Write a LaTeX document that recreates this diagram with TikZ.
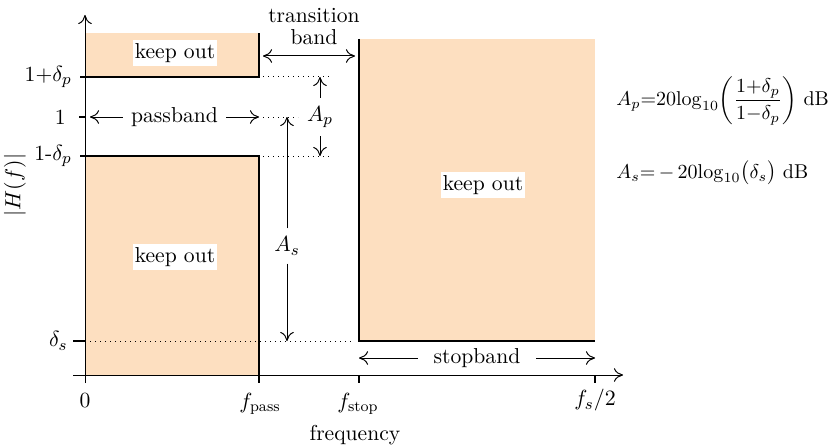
\documentclass[tikz,border=0pt]{standalone}
\usepackage{tikz}
\usetikzlibrary{arrows.meta,positioning}
\usepackage{xcolor}
\usepackage{amsmath}
\definecolor{keepout}{RGB}{253,223,192}

\begin{document}
\begin{tikzpicture}[
  x=0.5pt,y=-0.5pt,
  every node/.style={font=\fontsize{10.8}{13}\selectfont},
  zone/.style={fill=keepout,draw=none},
  edge/.style={line width=0.55pt},
  lvl/.style={dotted,line width=0.5pt},
  arr/.style={-{To[length=1.6mm,width=2.4mm]},line width=0.5pt},
  darr/.style={{To[length=1.6mm,width=2.4mm]}-{To[length=1.6mm,width=2.4mm]},line width=0.5pt},
  tag/.style={fill=white,inner ysep=1.5pt,inner xsep=1pt},
  lab/.style={inner sep=2pt},
  eq/.style={inner sep=0pt,anchor=west,font=\fontsize{10}{12}\selectfont}
]
\useasboundingbox (0,0) rectangle (834,444);
% keep-out regions
\fill[zone] (85,33) rectangle (259,77);
\fill[zone] (85,156) rectangle (259,375);
\fill[zone] (359,39) rectangle (595,341);
\draw[edge] (80,77) -- (259,77) -- (259,33);
\draw[edge] (80,156) -- (259,156) -- (259,375);
\draw[edge] (359,39) -- (359,341) -- (595,341);
% axes
\coordinate (xs) at (73,375);
\coordinate (xe) at (623,375);
\coordinate (ys) at (85,383);
\coordinate (ye) at (85,15);
\draw[arr] (xs) -- (xe);
\draw[arr] (ys) -- (ye);
\draw[edge] (259,375) -- (259,383);
\draw[edge] (359,375) -- (359,383);
\draw[edge] (595,375) -- (595,383);
\draw[edge] (79,117) -- (85,117);
\draw[edge] (73,341) -- (85,341);
\node[lab,anchor=north] (f0) at (85,389) {0};
\node[lab,anchor=north] (fpass) at (260,389) {$f_{\text{pass}}$};
\node[lab,anchor=north] (fstop) at (358,389) {$f_{\text{stop}}$};
\node[lab,anchor=north] (fhalf) at (595,385) {$f_s/2$};
\node[lab] (freq) at (355,435) {frequency};
\node[lab,rotate=90] (mag) at (15,185) {$|H(f)|$};
\node[lab,anchor=east] (ytop) at (76,77) {1+$\delta_p$};
\node[lab,anchor=east] (yone) at (70,117) {1};
\node[lab,anchor=east] (ylow) at (76,156) {1-$\delta_p$};
\node[lab,anchor=east] (ystop) at (72,341) {$\delta_s$};
% levels
\draw[lvl] (263,77) -- (330,77);
\draw[lvl] (263,117) -- (298,117);
\draw[lvl] (263,156) -- (330,156);
\draw[lvl] (90,341) -- (351,341);
% bands
\draw[darr] (90,117) -- (259,117) node[tag,inner xsep=4pt,midway] (pb) {passband};
\draw[darr] (263,56) -- (355,56);
\node[lab,align=center] (tb) at (314,27) {transition\\[-2pt]band};
\draw[darr] (359,358) -- (595,358) node[tag,inner xsep=8pt,midway] (sb) {stopband};
\node[tag] (k1) at (175,53) {keep out};
\node[tag] (k2) at (175,257) {keep out};
\node[tag] (k3) at (483,185) {keep out};
% attenuations
\node[lab] (ap) at (320,117) {$A_p$};
\draw[arr] (ap.north) ++(0,-4) -- (320,77);
\draw[arr] (ap.south) ++(0,4) -- (320,156);
\node[lab,inner sep=4pt] (as) at (287,246) {$A_s$};
\draw[arr] (as) -- (287,117);
\draw[arr] (as) -- (287,341);
\node[eq] (eqp) at (616,101) {$A_p{=}20\mathrm{log}_{10}\!\left(\dfrac{1{+}\delta_p}{1{-}\delta_p}\right)$ dB};
\node[eq] (eqs) at (616,173) {$A_s{=}\,{-}\,20\mathrm{log}_{10}\bigl(\delta_s\bigr)$ dB};
\end{tikzpicture}
\end{document}
